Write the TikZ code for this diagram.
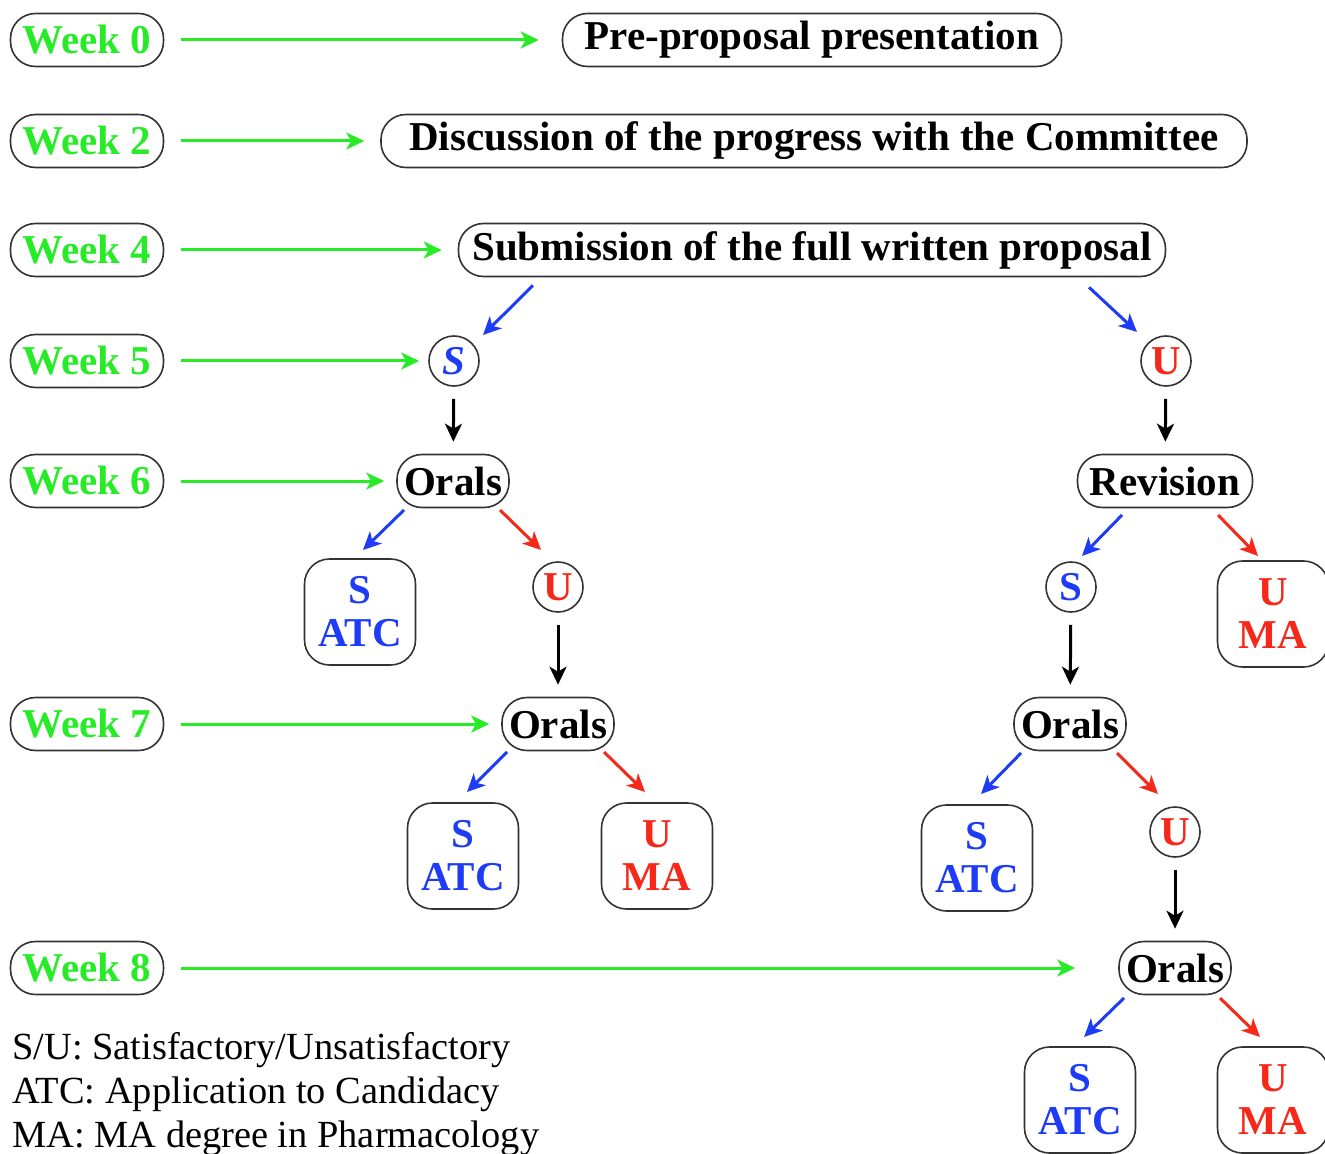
\documentclass[tikz,border=0pt]{standalone}
\usepackage{fontspec}
\setmainfont{Liberation Serif}
\usetikzlibrary{arrows.meta}
\definecolor{wkgreen}{RGB}{40,235,40}
\definecolor{sblue}{RGB}{30,60,245}
\definecolor{ured}{RGB}{245,40,25}
\tikzset{
  lbl/.style={font=\fontsize{20.5}{21.5}\selectfont\bfseries},
  box/.style={lbl, rectangle, rounded corners=12.5pt, draw=black!80, line width=0.8pt, minimum height=26.5pt, inner xsep=3pt},
  week/.style={box, text=wkgreen, minimum width=76.5pt},
  res/.style={lbl, circle, draw=black!80, line width=0.8pt, minimum size=25pt, inner sep=0pt},
  orals/.style={box, minimum width=56pt, inner xsep=2pt},
  outcome/.style={box, minimum width=55.5pt, minimum height=53pt, align=center},
  arr/.style={-{Stealth[length=9pt,width=8.5pt,inset=2.5pt]}, line width=1.5pt},
  garr/.style={arr, wkgreen, shorten <=8.5pt, shorten >=6pt},
  sarr/.style={arr, sblue},
  uarr/.style={arr, ured},
  karr/.style={arr, black, shorten <=6pt, shorten >=6pt},
}
\begin{document}
\begin{tikzpicture}[x=0.5pt, y=-0.5pt]
    \useasboundingbox (0,0) rectangle (1325,1154);

    % weeks
    \node[week] (w0) at (87,40) {Week 0};
    \node[week] (w2) at (87,141) {Week 2};
    \node[week] (w4) at (87,250) {Week 4};
    \node[week] (w5) at (87,361) {Week 5};
    \node[week] (w6) at (87,481) {Week 6};
    \node[week] (w7) at (87,724) {Week 7};
    \node[week] (w8) at (87,968) {Week 8};

    % main steps
    \node[box, minimum width=249.5pt] (pre) at (812,40) {Pre-proposal presentation};
    \node[box, minimum width=433pt] (disc) at (814,141) {Discussion of the progress with the Committee};
    \node[box, minimum width=353.5pt] (sub) at (812,250) {Submission of the full written proposal};

    % left branch
    \node[res, text=sblue, font=\fontsize{20.5}{21.5}\selectfont\bfseries\itshape] (S5) at (454,361) {S};
    \node[orals] (orals6) at (453,481) {Orals};
    \node[outcome, text=sblue] (atc6) at (360,612) {S\\ATC};
    \node[res, text=ured] (u6) at (558,587) {U};
    \node[orals] (orals7) at (558,724) {Orals};
    \node[outcome, text=sblue] (atc7) at (463,856) {S\\ATC};
    \node[outcome, text=ured] (ma7) at (657,856) {U\\MA};

    % right branch
    \node[res, text=ured] (U5) at (1166,361) {U};
    \node[orals, minimum width=87.5pt] (rev) at (1165,481) {Revision};
    \node[res, text=sblue] (s6r) at (1071,587) {S};
    \node[outcome, text=ured] (ma6r) at (1273,614) {U\\MA};
    \node[orals] (orals7r) at (1070,724) {Orals};
    \node[outcome, text=sblue] (atc7r) at (977,858) {S\\ATC};
    \node[res, text=ured] (u7r) at (1175,832) {U};
    \node[orals] (orals8) at (1175,968) {Orals};
    \node[outcome, text=sblue] (atc8) at (1080,1100) {S\\ATC};
    \node[outcome, text=ured] (ma8) at (1273,1100) {U\\MA};

    % legend
    \node[anchor=west, align=left, inner sep=0pt, font=\fontsize{19.2}{22}\selectfont] (legend) at (12,1094)
        {S/U: Satisfactory/Unsatisfactory\\ATC: Application to Candidacy\\MA: MA degree in Pharmacology};

    % week arrows
    \draw[garr, shorten >=11.5pt] (w0) -- (pre);
    \draw[garr, shorten >=8pt] (w2) -- (disc);
    \draw[garr, shorten >=8pt] (w4) -- (sub);
    \draw[garr, shorten >=4.5pt] (w5) -- (S5);
    \draw[garr] (w6) -- (orals6);
    \draw[garr] (w7) -- (orals7);
    \draw[garr, shorten >=21.5pt] (w8) -- (orals8);

    % decisions
    \draw[sarr] ([shift={(-279,8)}]sub.south) -- ([shift={(29,-26)}]S5.center);
    \draw[sarr] ([shift={(277,10)}]sub.south) -- ([shift={(-29,-29)}]U5.center);
    \draw[karr] (S5) -- (orals6);
    \draw[karr] (U5) -- (rev);

    \draw[sarr] ([shift={(-49,29)}]orals6.center) -- ([shift={(3,-62)}]atc6.center);
    \draw[uarr] ([shift={(47,29)}]orals6.center) -- ([shift={(-17,-37)}]u6.center);
    \draw[karr] (u6) -- (orals7);
    \draw[sarr] ([shift={(-51,28)}]orals7.center) -- ([shift={(4,-64)}]atc7.center);
    \draw[uarr] ([shift={(46,28)}]orals7.center) -- ([shift={(-12,-64)}]ma7.center);

    \draw[sarr] ([shift={(-43,34)}]rev.center) -- ([shift={(11,-31)}]s6r.center);
    \draw[uarr] ([shift={(53,34)}]rev.center) -- ([shift={(-15,-58)}]ma6r.center);
    \draw[karr] (s6r) -- (orals7r);
    \draw[sarr] ([shift={(-49,29)}]orals7r.center) -- ([shift={(4,-64)}]atc7r.center);
    \draw[uarr] ([shift={(47,29)}]orals7r.center) -- ([shift={(-17,-38)}]u7r.center);
    \draw[karr] (u7r) -- (orals8);
    \draw[sarr] ([shift={(-51,30)}]orals8.center) -- ([shift={(4,-63)}]atc8.center);
    \draw[uarr] ([shift={(45,30)}]orals8.center) -- ([shift={(-13,-63)}]ma8.center);
\end{tikzpicture}
\end{document}
